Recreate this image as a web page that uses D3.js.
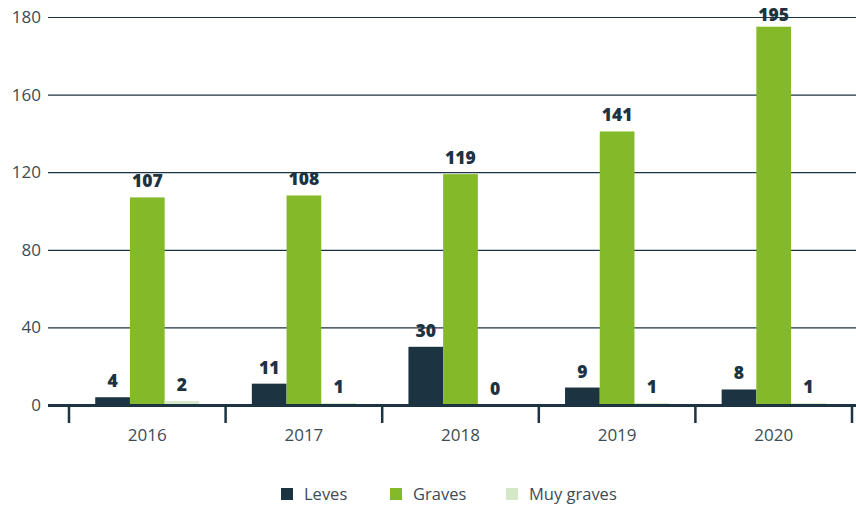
<!DOCTYPE html>
<html>
<head>
<meta charset="utf-8">
<script src="https://cdn.jsdelivr.net/npm/d3@7"></script>
<style>
  html, body { margin: 0; padding: 0; background: #fff; }
  svg { display: block; }
</style>
</head>
<body>
<div id="chart"></div>
<script>
const years = ["2016", "2017", "2018", "2019", "2020"];
const seriesNames = ["Leves", "Graves", "Muy graves"];
const leves = [4, 11, 30, 9, 8];
const graves = [107, 108, 119, 141, 195];
const muyGraves = [2, 1, 0, 1, 1];
const tickValues = [0, 40, 80, 120, 160, 200];
const tickLabels = ["0", "40", "80", "120", "160", "180"];
const colors = ["#1c3342", "#84b92a", "#d3e8c7"];

const W = 856, H = 507;
const svg = d3.select("#chart").append("svg").attr("width", W).attr("height", H);

const x0 = d3.scaleBand().domain(years).range([69, 852]).paddingInner(0).paddingOuter(0);
const x1 = d3.scaleBand().domain(seriesNames).range([0, x0.bandwidth()]).paddingInner(0).paddingOuter(0.756);
const y = d3.scaleLinear().domain([0, 200]).range([405, 17]);

const seriesData = [leves, graves, muyGraves];

// Grid lines + y labels
const yAxis = d3.axisLeft(y).tickValues(tickValues)
  .tickSize(-(W - 48)).tickFormat((d, i) => tickLabels[i]).tickPadding(8);
const gy = svg.append("g").attr("transform", "translate(48,0)").call(yAxis);
gy.select(".domain").remove();
gy.selectAll(".tick line").attr("stroke", "#1c3342").attr("stroke-width", 1.2);
gy.selectAll(".tick text").attr("fill", "#3d4b56").style("font-family", "'Open Sans', sans-serif")
  .style("font-size", "17px").attr("x", -7);

// Bars
const groups = svg.append("g").selectAll("g").data(years).join("g")
  .attr("transform", d => `translate(${x0(d)},0)`);

groups.each(function(yr, i) {
  const g = d3.select(this);
  seriesNames.forEach((s, k) => {
    const v = seriesData[k][i];
    g.append("rect")
      .attr("x", x1(s))
      .attr("width", x1.bandwidth())
      .attr("y", y(v))
      .attr("height", y(0) - y(v))
      .attr("fill", colors[k]);
    g.append("text")
      .attr("x", x1(s) + x1.bandwidth() / 2)
      .attr("y", Math.max(y(v) - 10, 21))
      .attr("text-anchor", "middle")
      .attr("fill", "#1c3342")
      .style("font-family", "'Open Sans', sans-serif")
      .style("font-weight", "800")
      .style("font-size", "17.5px")
      .text(v);
  });
});

// X axis baseline
const xAxis = d3.axisBottom(x0).tickSize(0).tickPadding(24);
const gx = svg.append("g").attr("transform", "translate(0,405)").call(xAxis);
gx.select(".domain").remove();
gx.selectAll(".tick text").attr("fill", "#3d4b56").style("font-family", "'Open Sans', sans-serif").style("font-size", "17px");
svg.append("line").attr("x1", 48).attr("x2", W).attr("y1", 405.5).attr("y2", 405.5)
  .attr("stroke", "#1c3342").attr("stroke-width", 3);
// boundary ticks
const bounds = years.map(d => x0(d)).concat([x0(years[years.length - 1]) + x0.bandwidth()]);
svg.append("g").selectAll("line").data(bounds).join("line")
  .attr("x1", d => d).attr("x2", d => d).attr("y1", 405).attr("y2", 423)
  .attr("stroke", "#1c3342").attr("stroke-width", 2.5);

// Legend
const legendX = [281, 390, 506];
const lg = svg.append("g").selectAll("g").data(seriesNames).join("g")
  .attr("transform", (d, i) => `translate(${legendX[i]},488)`);
lg.append("rect").attr("width", 12).attr("height", 12).attr("fill", (d, i) => colors[i]);
lg.append("text").attr("x", 23).attr("y", 11.5).attr("fill", "#3d4b56")
  .style("font-family", "'Open Sans', sans-serif").style("font-size", "16.5px").text(d => d);
</script>
</body>
</html>
